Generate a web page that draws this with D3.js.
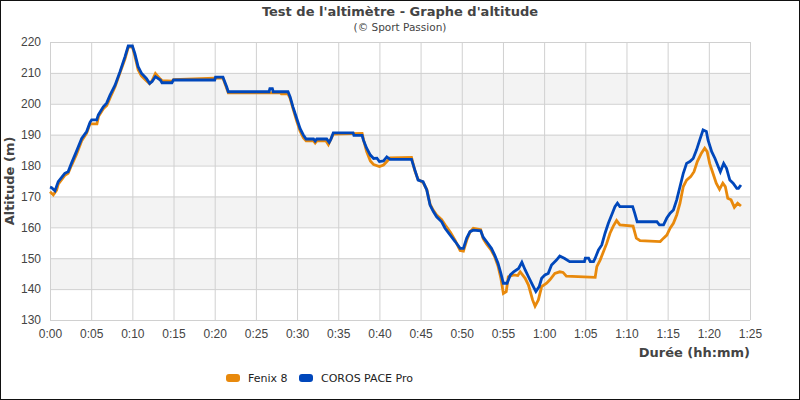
<!DOCTYPE html>
<html>
<head>
<meta charset="utf-8">
<script src="https://cdn.jsdelivr.net/npm/d3@7"></script>
<style>
  body { margin: 0; background: #fff; }
  svg { display: block; font-family: "DejaVu Sans", sans-serif; }
</style>
</head>
<body>
<div id="chart"></div>
<script>
/* Data: time in minutes, altitude in metres */
var seriesNames = ["Fenix 8", "COROS PACE Pro"];
var seriesColors = ["#e8890c", "#0047bb"];

var fenixTime = [0, 0.4, 0.8, 1.0, 1.8, 2.2, 2.6, 3.2, 3.85, 4.45, 4.86, 5.7, 5.9, 6.5, 6.9, 7.3, 7.9, 8.5, 9.1, 9.5,
  10.0, 10.3, 10.7, 11.1, 11.7, 12.1, 12.4, 12.8, 13.4, 13.6, 14.8, 15.0, 20.0, 21.0, 21.45, 21.65, 28.0, 28.1, 28.9,
  29.15, 29.5, 29.95, 30.36, 30.76, 31.1, 32.0, 32.2, 32.4, 33.5, 33.8, 34.0, 34.4, 37.9, 38.1, 38.45, 38.9, 39.3,
  40.0, 40.5, 40.9, 41.3, 43.9, 44.3, 44.7, 45.3, 45.75, 46.15, 46.55, 46.95, 47.56, 47.97, 48.6, 49.2, 49.8, 50.2,
  50.6, 51.0, 51.4, 52.3, 52.6, 53.0, 53.6, 54.0, 54.4, 54.75, 55.05, 55.4, 55.65, 56.3, 56.8, 57.1, 57.7, 58.1,
  58.6, 58.9, 59.3, 59.7, 60.3, 60.7, 61.3, 61.9, 62.3, 62.7, 66.2, 66.4, 66.8, 67.2, 67.6, 68.0, 68.4, 68.8, 69.2,
  70.8, 71.2, 71.65, 74.1, 74.5, 74.9, 75.3, 75.7, 76.1, 76.5, 76.9, 77.3, 77.8, 78.2, 78.6, 79.1, 79.5, 79.8, 80.1,
  80.5, 80.9, 81.3, 81.7, 82.0, 82.3, 82.7, 83.1, 83.5, 83.9];
var fenixAlt = [171.5, 170.5, 172, 174, 176.8, 177.5, 180, 183.5, 188, 190.5, 193.5, 193.5, 196, 198.5, 199.5, 202, 205.5, 210, 214.5, 218.3,
  218.5, 215.5, 211, 209, 207.5, 206.5, 207.5, 209.8, 208, 207.5, 207.3, 207.8, 208.3, 208.3, 205, 203.5, 203.5, 203.2, 203.2,
  201.8, 198.5, 194.5, 191.2, 189, 188, 188, 187.3, 188, 188, 186.8, 188, 190.2, 190.4, 188, 184.5, 181.5, 180.3,
  179.7, 180.2, 181.3, 182.5, 182.6, 178.3, 175.5, 174.5, 172.3, 167.5, 165.5, 164, 162.5, 160.8, 158.5, 155.8, 152.5, 152.3,
  155.8, 158.5, 159.7, 159.2, 156.3, 154.6, 152.5, 150.5, 147.5, 143.5, 138.6, 139.2, 144, 144.6, 144.4, 145.6, 143.5, 141.3,
  136.5, 134.5, 136.5, 140.8, 141.9, 143.0, 145.1, 145.6, 145.4, 144.2, 143.8, 147.3, 149.4, 152.1, 154.8, 158.1, 160.4, 162.2, 160.8,
  160.4, 156.5, 155.7, 155.4, 156.5, 157.5, 159.7, 161.3, 164, 167.8, 173.2, 175.3, 176.4, 178, 181.3, 184, 185.6, 184.5, 180.7,
  177.5, 174.3, 172.3, 174.3, 173.2, 169.4, 168.9, 166.5, 167.8, 166.9];

var corosTime = [0, 0.2, 0.6, 1.0, 1.8, 2.2, 2.6, 3.2, 3.85, 4.45, 4.86, 5.06, 5.67, 5.87, 6.47, 6.88, 7.29, 7.9, 8.5, 9.1,
  9.5, 10.0, 10.3, 10.7, 11.1, 11.7, 12.1, 12.4, 12.8, 13.4, 13.6, 14.8, 15.0, 20.0, 20.1, 21.0, 21.45, 21.65, 26.6, 26.7,
  27.0, 27.1, 28.9, 29.15, 29.5, 29.95, 30.36, 30.76, 31.1, 32.0, 32.2, 32.4, 33.6, 33.9, 34.1, 34.4, 36.8, 36.9, 37.9,
  38.05, 38.45, 38.9, 39.3, 39.7, 40.0, 40.5, 40.9, 41.3, 43.9, 44.3, 44.7, 45.3, 45.75, 46.15, 46.55, 46.95, 47.56, 47.97,
  48.6, 49.2, 49.8, 50.2, 50.6, 51.0, 51.4, 52.3, 52.6, 53.0, 53.6, 54.0, 54.4, 54.75, 55.05, 55.5, 55.9, 56.3, 56.9, 57.3,
  57.7, 58.1, 58.6, 59.0, 59.4, 59.7, 60.1, 60.5, 60.9, 61.5, 61.9, 62.5, 63.1, 64.9, 65.0, 65.4, 65.6, 66.0, 66.2, 66.6,
  67.0, 67.4, 67.8, 68.2, 68.6, 68.9, 69.2, 70.75, 71.0, 71.3, 73.7, 74.0, 74.5, 74.9, 75.3, 75.7, 76.1, 76.5, 76.9, 77.3,
  77.7, 78.1, 78.5, 78.9, 79.3, 79.7, 79.9, 80.35, 80.75, 81.15, 81.4, 81.8, 82.15, 82.55, 82.95, 83.4, 83.6, 83.9];
var corosAlt = [173, 172.8, 171.8, 174.8, 177.5, 178, 180.7, 184.5, 188.8, 191, 194, 194.8, 194.8, 196.4, 199, 200.2, 202.8, 206, 210.4, 215.2,
  218.7, 218.7, 216.3, 212, 209.9, 208.2, 206.6, 207.2, 208.8, 207.7, 206.8, 206.8, 207.7, 207.7, 208.6, 208.6, 205.5, 203.9, 203.9, 204.9,
  204.9, 203.9, 203.9, 202.3, 199, 195.3, 192, 189.9, 188.6, 188.6, 187.9, 188.6, 188.6, 187.5, 188.5, 190.6, 190.6, 189.8, 189.8,
  188.3, 185.6, 183.4, 182.3, 182.4, 181.3, 181.5, 182.8, 182.0, 182.0, 178.6, 175.3, 174.8, 172.1, 167.2, 165.1, 163.4, 161.8, 159.7,
  157.5, 155.4, 153.2, 153.2, 156.5, 158.6, 159.1, 158.9, 156.8, 155.4, 153.2, 151.0, 148.4, 145.1, 141.9, 141.9, 144.6, 145.6, 146.7, 148.7,
  146.2, 144.0, 141.3, 139.2, 140.8, 143.5, 144.6, 145.1, 147.8, 149.4, 150.7, 149.9, 148.9, 148.9, 150.0, 150.0, 148.9, 148.9, 150, 152.7,
  154.3, 158.1, 161.3, 164.0, 166.7, 167.8, 166.7, 166.7, 164.6, 161.8, 161.8, 160.8, 160.8, 163, 164.6, 165.6, 168.9, 173.2, 177.5, 180.7,
  181.3, 182.3, 185.0, 188.3, 191.5, 191.0, 188.3, 184.5, 182.3, 179.6, 178, 180.7, 179.1, 175.3, 174.3, 172.6, 172.6, 173.7];

var xTicks = d3.range(0, 86, 5);      /* every 5 minutes */
var yTicks = d3.range(130, 221, 10);  /* every 10 m */

/* Settings */
var width = 800,
    height = 400,
    margin = {top: 42, right: 50, bottom: 80, left: 50},
    innerW = width - margin.left - margin.right,
    innerH = height - margin.top - margin.bottom,
    textColor = "#444",
    gridColor = "#d0d0d0";

var x = d3.scaleLinear().domain([0, 85]).range([margin.left, margin.left + innerW]);
var y = d3.scaleLinear().domain([130, 220]).range([margin.top + innerH, margin.top]);

function fmtTime(m) {
  return Math.floor(m / 60) + ":" + d3.format("02d")(m % 60);
}

var svg = d3.select("#chart").append("svg")
    .attr("width", width)
    .attr("height", height)
    .attr("viewBox", "0 0 " + width + " " + height);

/* Outer frame */
svg.append("rect")
  .attr("x", 0.5).attr("y", 0.5)
  .attr("width", width - 1).attr("height", height - 1)
  .attr("fill", "#fff")
  .attr("stroke", "#111");

/* Alternating bands */
svg.append("g").selectAll("rect")
  .data(yTicks.slice(0, -1).filter(function(d) { return (d / 10) % 2 === 0; }))
  .join("rect")
    .attr("x", x(0))
    .attr("width", innerW)
    .attr("y", function(d) { return y(d + 10); })
    .attr("height", function(d) { return y(d) - y(d + 10); })
    .attr("fill", "#f3f3f3");

/* Grid via axes */
svg.append("g")
  .attr("transform", "translate(0," + (margin.top + innerH) + ")")
  .call(d3.axisBottom(x).tickValues(xTicks).tickSize(-innerH).tickFormat(fmtTime).tickPadding(9))
  .call(function(g) {
    g.select(".domain").remove();
    g.selectAll(".tick line").attr("stroke", gridColor);
    g.selectAll(".tick text").attr("fill", textColor).attr("font-size", 12);
  });

svg.append("g")
  .attr("transform", "translate(" + margin.left + ",0)")
  .call(d3.axisLeft(y).tickValues(yTicks).tickSize(-innerW).tickPadding(9))
  .call(function(g) {
    g.select(".domain").remove();
    g.selectAll(".tick line").attr("stroke", gridColor);
    g.selectAll(".tick text").attr("fill", textColor).attr("font-size", 12);
  });

/* Lines */
var line = d3.line()
    .x(function(d) { return x(d[0]); })
    .y(function(d) { return y(d[1]); });

var series = [d3.zip(fenixTime, fenixAlt), d3.zip(corosTime, corosAlt)];

svg.append("g").selectAll("path")
  .data(series)
  .join("path")
    .attr("fill", "none")
    .attr("stroke", function(d, i) { return seriesColors[i]; })
    .attr("stroke-width", 2.8)
    .attr("stroke-linejoin", "miter")
    .attr("d", line);

/* Titles */
svg.append("text")
  .attr("x", width / 2).attr("y", 16)
  .attr("text-anchor", "middle")
  .attr("font-size", 13).attr("font-weight", "bold")
  .attr("fill", textColor)
  .text("Test de l'altimètre - Graphe d'altitude");

svg.append("text")
  .attr("x", width / 2).attr("y", 31)
  .attr("text-anchor", "middle")
  .attr("font-size", 10.5)
  .attr("fill", textColor)
  .text("(© Sport Passion)");

svg.append("text")
  .attr("x", margin.left + innerW).attr("y", 357)
  .attr("text-anchor", "end")
  .attr("font-size", 13).attr("font-weight", "bold")
  .attr("fill", textColor)
  .text("Durée (hh:mm)");

svg.append("text")
  .attr("transform", "translate(14," + (margin.top + innerH / 2) + ") rotate(-90)")
  .attr("text-anchor", "middle")
  .attr("font-size", 13).attr("font-weight", "bold")
  .attr("fill", textColor)
  .text("Altitude (m)");

/* Legend */
var legendX = [226, 299];
var legend = svg.append("g").selectAll("g")
  .data(seriesNames)
  .join("g")
    .attr("transform", function(d, i) { return "translate(" + legendX[i] + ",374)"; });

legend.append("rect")
  .attr("width", 14).attr("height", 8).attr("rx", 3)
  .attr("fill", function(d, i) { return seriesColors[i]; });

legend.append("text")
  .attr("x", 22).attr("y", 8)
  .attr("font-size", 11)
  .attr("fill", "#222")
  .text(function(d) { return d; });
</script>
</body>
</html>
